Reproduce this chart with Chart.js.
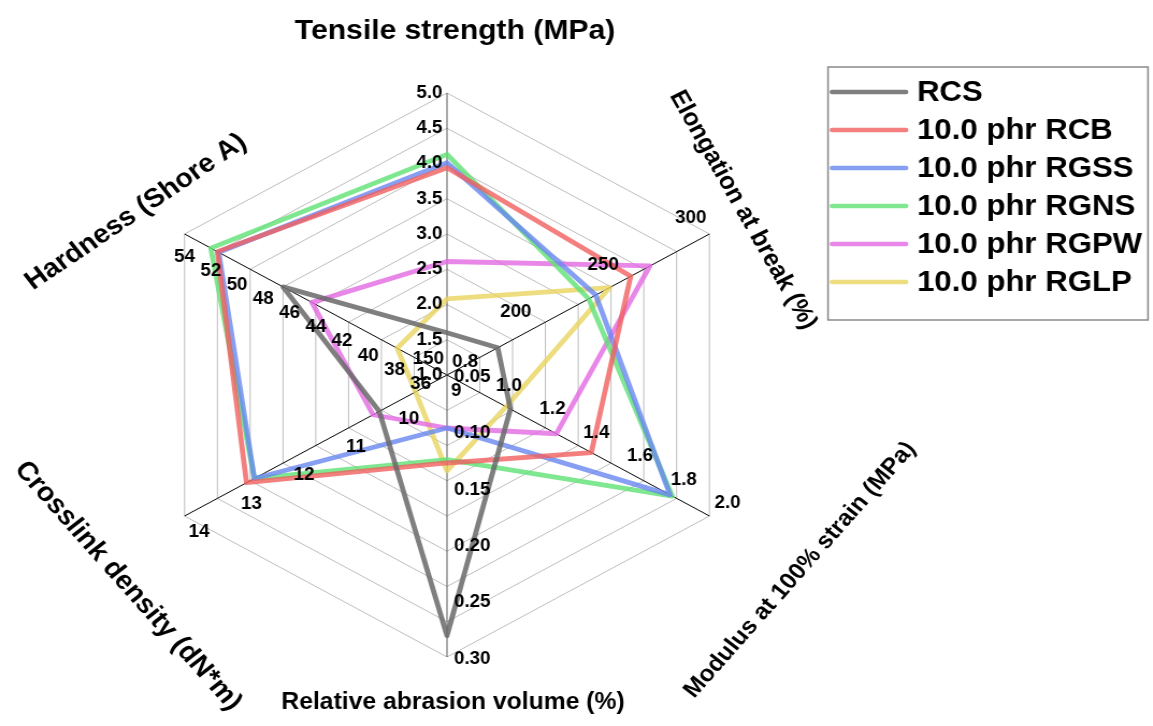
<!DOCTYPE html>
<html>
<head>
<meta charset="utf-8">
<script src="https://cdn.jsdelivr.net/npm/chart.js@4.4.1/dist/chart.umd.min.js"></script>
<style>
html, body { margin: 0; padding: 0; background: #fff; overflow: hidden; }
#radar { position: absolute; left: 0; top: 0; transform: scaleX(1.0745); transform-origin: 0 0; }
</style>
</head>
<body>
<canvas id="radar" width="1073" height="726"></canvas>
<script>
// the original figure is a bit wider than tall, the canvas gets stretched in x
const stretch = 1.0745;

// axes, clockwise from the top
const axisNames = ['Tensile strength (MPa)', 'Elongation at break (%)', 'Modulus at 100% strain (MPa)',
    'Relative abrasion volume (%)', 'Crosslink density (dN*m)', 'Hardness (Shore A)'];
const axisMin = [1.0, 150, 0.8, 0.05, 9, 34];
const axisMax = [5.0, 300, 2.0, 0.30, 14, 54];

// tick labels of each axis
const ticksTensile = ['1.0', '1.5', '2.0', '2.5', '3.0', '3.5', '4.0', '4.5', '5.0'];
const ticksElongation = ['150', '200', '250', '300'];
const ticksModulus = ['0.8', '1.0', '1.2', '1.4', '1.6', '1.8', '2.0'];
const ticksAbrasion = ['0.05', '0.10', '0.15', '0.20', '0.25', '0.30'];
const ticksCrosslink = ['9', '10', '11', '12', '13', '14'];
const ticksHardness = ['36', '38', '40', '42', '44', '46', '48', '50', '52', '54'];

// series (tensile, elongation, modulus, abrasion, crosslink, hardness)
const seriesNames = ['RCS', '10.0 phr RCB', '10.0 phr RGSS', '10.0 phr RGNS', '10.0 phr RGPW', '10.0 phr RGLP'];
const rcs  = [1.60, 179, 1.09, 0.281, 10.29, 46.5];
const rcb  = [3.94, 255, 1.46, 0.128, 12.82, 51.5];
const rgss = [4.01, 235, 1.82, 0.097, 12.67, 51.4];
const rgns = [4.13, 231, 1.83, 0.125, 12.67, 52.0];
const rgpw = [2.61, 266, 1.30, 0.097, 10.41, 44.3];
const rglp = [2.08, 243, 1.07, 0.135, 9.60, 37.8];

const colori = ['rgba(105,105,105,0.85)', 'rgba(240,95,95,0.8)', 'rgba(105,135,240,0.8)',
    'rgba(95,225,115,0.8)', 'rgba(228,105,228,0.8)', 'rgba(232,212,95,0.8)'];

function norm(i, v) {
    return (v - axisMin[i]) / (axisMax[i] - axisMin[i]);
}

const tickSets = [ticksTensile, ticksElongation, ticksModulus, ticksAbrasion, ticksCrosslink, ticksHardness];
// where the labels sit next to their tick (logical px)
const tickPos = [
    { align: 'right', dx: -4.2, dy: 0 },
    { align: 'right', dx: -2.8, dy: -16 },
    { align: 'left', dx: 4.7, dy: -12.5 },
    { align: 'left', dx: 6.5, dy: 2 },
    { align: 'left', dx: 3.7, dy: 16 },
    { align: 'center', dx: 0, dy: 23 }
];

// axis titles: centre in final px, angle in logical degrees
const titles = [
    { x: 455, y: 31, a: 0, size: 28 },
    { x: 743, y: 210, a: 62, size: 24 },
    { x: 800, y: 570, a: -50.4, size: 23 },
    { x: 453, y: 703, a: 0, size: 23 },
    { x: 128, y: 586, a: 50.3, size: 26.5 },
    { x: 136, y: 212, a: -36, size: 26.5 }
];

const FONT = '"Liberation Sans", Arial, sans-serif';

const decorazioni = {
    id: 'decorazioni',
    afterDraw(chart) {
        const ctx = chart.ctx;
        const r = chart.scales.r;
        ctx.save();
        ctx.fillStyle = '#000';

        // tick labels
        ctx.font = 'bold 17.5px ' + FONT;
        ctx.textBaseline = 'middle';
        tickSets.forEach((ticks, i) => {
            ctx.textAlign = tickPos[i].align;
            ticks.forEach(t => {
                const p = r.getPointPositionForValue(i, norm(i, parseFloat(t)));
                ctx.fillText(t, p.x + tickPos[i].dx, p.y + tickPos[i].dy);
            });
        });

        // axis titles
        ctx.textAlign = 'center';
        titles.forEach((t, i) => {
            ctx.save();
            ctx.translate(t.x / stretch, t.y);
            ctx.rotate(t.a * Math.PI / 180);
            ctx.font = 'bold ' + t.size + 'px ' + FONT;
            ctx.fillText(axisNames[i], 0, 0);
            ctx.restore();
        });

        // legend
        const bx = 828 / stretch, by = 67, bw = 320 / stretch, bh = 253;
        ctx.strokeStyle = '#8a8a8a';
        ctx.lineWidth = 1.5;
        ctx.strokeRect(bx, by, bw, bh);
        ctx.font = 'bold 29px ' + FONT;
        ctx.textAlign = 'left';
        seriesNames.forEach((nome, i) => {
            const y = 92 + i * 38;
            ctx.strokeStyle = colori[i];
            ctx.lineWidth = 4.5;
            ctx.lineCap = 'round';
            ctx.beginPath();
            ctx.moveTo(832 / stretch, y);
            ctx.lineTo(906 / stretch, y);
            ctx.stroke();
            ctx.fillStyle = '#000';
            ctx.fillText(nome, 917 / stretch, y + 1);
        });
        ctx.restore();
    }
};

const valori = [rcs, rcb, rgss, rgns, rgpw, rglp];

new Chart(document.getElementById('radar'), {
    type: 'radar',
    data: {
        labels: axisNames,
        datasets: valori.map((serie, k) => ({
            label: seriesNames[k],
            data: serie.map((v, i) => norm(i, v)),
            borderColor: colori[k],
            borderWidth: 4.8,
            borderJoinStyle: 'round',
            fill: false,
            pointRadius: 0
        }))
    },
    options: {
        responsive: false,
        animation: false,
        layout: { padding: { left: 134, top: 93, right: 375, bottom: 69 } },
        plugins: { legend: { display: false }, tooltip: { enabled: false } },
        elements: { line: { tension: 0 } },
        scales: {
            r: {
                min: 0,
                max: 1,
                ticks: { display: false, stepSize: 0.125 },
                pointLabels: { display: false },
                grid: { color: '#bdbdbd', lineWidth: 1 },
                angleLines: {
                    color: ctx => (ctx.index % 3 === 0 ? '#555' : '#000'),
                    lineWidth: 1
                }
            }
        }
    },
    plugins: [decorazioni]
});
</script>
</body>
</html>
